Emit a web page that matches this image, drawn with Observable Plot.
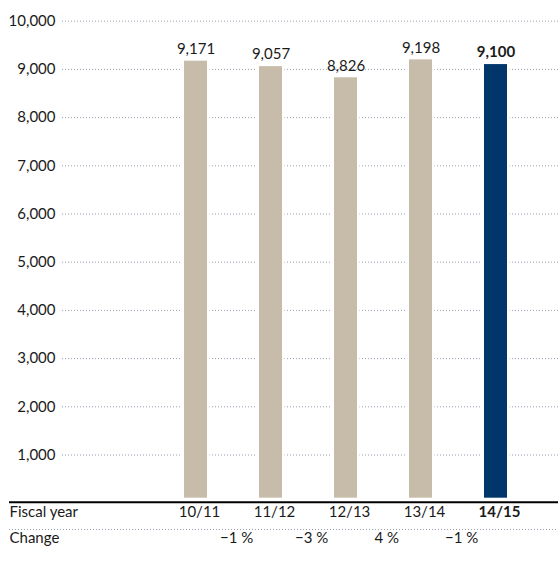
<!DOCTYPE html>
<html>
<head>
<meta charset="utf-8">
<script src="https://cdn.jsdelivr.net/npm/d3@7"></script>
<script src="https://cdn.jsdelivr.net/npm/@observablehq/plot@0.6"></script>
<style>
  html, body { margin: 0; padding: 0; background: #fff; }
  #chart svg { display: block; }
</style>
</head>
<body>
<div id="chart"></div>
<script>
const years = ["10/11", "11/12", "12/13", "13/14", "14/15"];
const employees = [9171, 9057, 8826, 9198, 9100];
const changes = ["\u22121 %", "\u22123 %", "4 %", "\u22121 %"];
const yTicks = [1000, 2000, 3000, 4000, 5000, 6000, 7000, 8000, 9000, 10000];
const rowLabels = ["Fiscal year", "Change"];
const currentYear = "14/15";

const tan = "#c7bcaa";
const navy = "#00366a";
const gridColor = "#95a0b0";
const fmt = d3.format(",");

const data = years.map((year, i) => ({year, value: employees[i]}));
const past = data.filter(d => d.year !== currentYear);
const current = data.filter(d => d.year === currentYear);
const changeData = changes.map((c, i) => ({label: c, year: years[i + 1]}));

const chart = Plot.plot({
  width: 558,
  height: 570,
  marginLeft: 62,
  marginRight: 0,
  marginTop: 20.7,
  marginBottom: 67.3,
  x: {domain: years, range: [156.2, 534.1], paddingInner: 0.696, paddingOuter: 0.348, axis: null},
  y: {domain: [0, 10000], axis: null},
  style: {fontFamily: "Lato, 'Open Sans', sans-serif", fontSize: "15px", color: "#1a1a1a", background: "#fff"},
  marks: [
    Plot.ruleY(yTicks, {stroke: gridColor, strokeDasharray: "1,2", strokeWidth: 1}),
    Plot.axisY(yTicks, {tickSize: 0, tickPadding: 7, tickFormat: fmt, fontSize: 15, label: null}),
    Plot.barY(data, {x: "year", y: "value", fill: "#fff", stroke: "#fff", strokeWidth: 5, insetBottom: 5}),
    Plot.barY(past, {x: "year", y: "value", fill: tan, insetBottom: 5}),
    Plot.barY(current, {x: "year", y: "value", fill: navy, insetBottom: 5}),
    Plot.text(past, {x: "year", y: "value", text: d => fmt(d.value), dy: -12, fontSize: 15}),
    Plot.text(current, {x: "year", y: "value", text: d => fmt(d.value), dy: -12, fontSize: 15, fontWeight: "bold"}),
    Plot.ruleY([0], {stroke: "#000", strokeWidth: 2, insetLeft: -53, dy: -1}),
    Plot.ruleY([0], {stroke: gridColor, strokeDasharray: "1,2", strokeWidth: 1, insetLeft: -53, dy: 26.3}),
    Plot.text(rowLabels.slice(0, 1), {frameAnchor: "bottom-left", textAnchor: "start", dx: -53, dy: 13.3, fontSize: 15}),
    Plot.text(rowLabels.slice(1), {frameAnchor: "bottom-left", textAnchor: "start", dx: -53, dy: 39.6, fontSize: 15}),
    Plot.text(years.filter(y => y !== currentYear), {x: d => d, frameAnchor: "bottom", dx: 3.5, dy: 13.3, fontSize: 15}),
    Plot.text([currentYear], {x: d => d, frameAnchor: "bottom", dx: 3.5, dy: 13.3, fontSize: 15, fontWeight: "bold"}),
    Plot.text(changeData, {x: "year", text: "label", frameAnchor: "bottom", dx: -37.8 + 3.5, dy: 39.6, fontSize: 15})
  ]
});

document.getElementById("chart").appendChild(chart);
</script>
</body>
</html>
